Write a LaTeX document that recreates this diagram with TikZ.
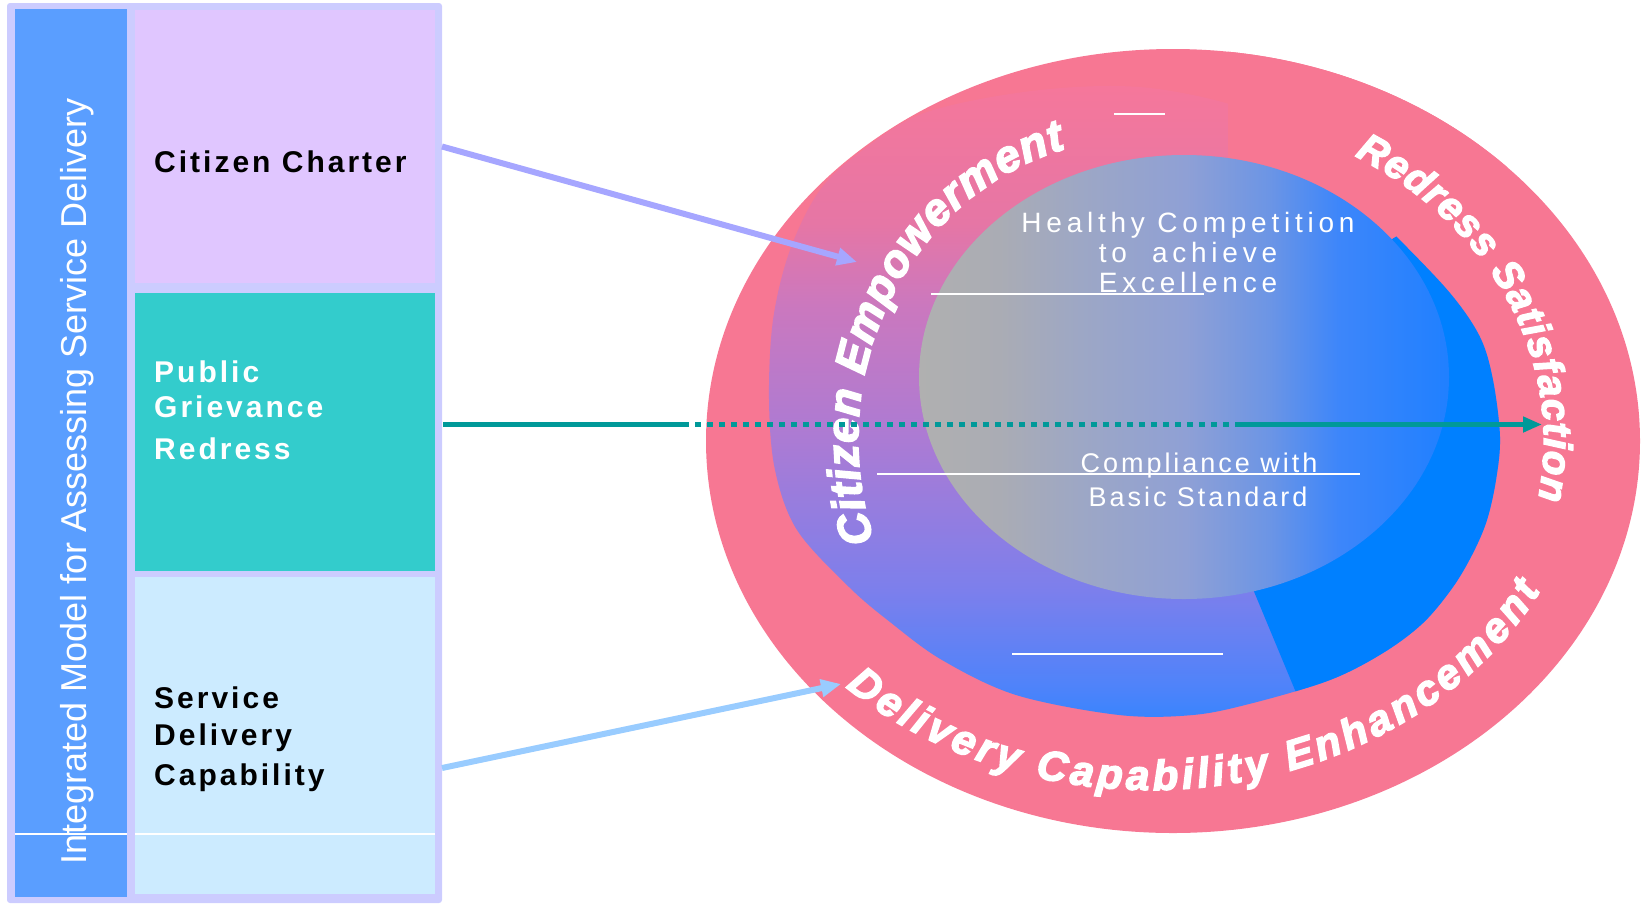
\documentclass[tikz,border=0pt]{standalone}
\usepackage{fontspec}
\setmainfont{Liberation Sans}
\newfontfamily\boxfont{Liberation Sans}[LetterSpace=10]
\newfontfamily\ctrfont{Liberation Sans}[LetterSpace=17]
\newfontfamily\cmpfont{Liberation Sans}[LetterSpace=11]
\newfontfamily\arcfont{Liberation Sans}[BoldItalicFeatures={FakeBold=3.5}]
\usetikzlibrary{arrows.meta,decorations.text}
\definecolor{framec}{HTML}{CCCCFF}
\definecolor{colblue}{HTML}{5A9EFF}
\definecolor{ccbox}{HTML}{E0C6FF}
\definecolor{pgrbox}{HTML}{33CCCC}
\definecolor{sdcbox}{HTML}{CCEBFF}
\definecolor{ringpink}{HTML}{F77793}
\definecolor{wedgeblue}{HTML}{0080FF}
\definecolor{tealc}{HTML}{009999}
\definecolor{lavc}{HTML}{A6A6FF}
\definecolor{lbluec}{HTML}{99CCFF}
\definecolor{m1}{HTML}{2A85FF}
\definecolor{m2}{HTML}{4F83FA}
\definecolor{m3}{HTML}{7C7FEC}
\definecolor{m4}{HTML}{AB7BD4}
\definecolor{m5}{HTML}{CB78BE}
\definecolor{m6}{HTML}{E676A5}
\definecolor{m7}{HTML}{F5779B}
\definecolor{i1}{HTML}{B0B0B0}
\definecolor{i2}{HTML}{AAACB4}
\definecolor{i3}{HTML}{9DA7C5}
\definecolor{i4}{HTML}{8FA0D5}
\definecolor{i5}{HTML}{6C95E5}
\definecolor{i6}{HTML}{3D86FA}
\definecolor{i7}{HTML}{2080FF}
\pgfdeclareverticalshading{midshade}{100bp}{color(0bp)=(m1); color(25bp)=(m1); color(29bp)=(m2); color(36bp)=(m3); color(47bp)=(m4); color(57bp)=(m5); color(63bp)=(m6); color(73bp)=(m7); color(100bp)=(m7)}
\pgfdeclarehorizontalshading{coreshade}{100bp}{color(0bp)=(i1); color(25bp)=(i1); color(32.6bp)=(i2); color(40.2bp)=(i3); color(50.2bp)=(i4); color(58bp)=(i5); color(64.6bp)=(i6); color(75bp)=(i7); color(100bp)=(i7)}
\begin{document}
\begin{tikzpicture}[x=1pt,y=-1pt,
  panel/.style={inner sep=0pt, outer sep=0pt, anchor=north west},
  boxlabel/.style={anchor=base west, inner sep=0pt, font=\boxfont\bfseries\fontsize{30}{34}\selectfont},
  ctrlabel/.style={anchor=base, inner sep=0pt, text=white, font=\ctrfont\fontsize{28}{32}\selectfont},
  cmplabel/.style={anchor=base, inner sep=0pt, text=white, font=\cmpfont\fontsize{27}{31}\selectfont},
  hairline/.style={white, line width=1.2pt},
  arrowline/.style={line width=6pt},
  tealline/.style={draw=tealc, line width=4.5pt},
]
\useasboundingbox (0,0) rectangle (1641,906);

% left panel
\node[panel, fill=framec, rounded corners=3pt, minimum width=435pt, minimum height=900pt] (frame) at (7,3) {};
\node[panel, fill=colblue, minimum width=112pt, minimum height=888pt] (col) at (15,9) {};
\node[panel, fill=ccbox, minimum width=300pt, minimum height=273pt] (cc) at (135,10) {};
\node[panel, fill=pgrbox, minimum width=300pt, minimum height=278pt] (pgr) at (135,293) {};
\node[panel, fill=sdcbox, minimum width=300pt, minimum height=317pt] (sdc) at (135,577) {};
\draw[hairline] (15,834) -- (127,834);
\draw[hairline] (135,834) -- (435,834);

\node[rotate=90, anchor=base west, inner sep=0pt, text=white, font=\fontsize{36}{40}\selectfont] (title) at (86,865) {Integrated Model for Assessing Service Delivery};

\node[boxlabel] (ccl) at (154,172) {Citizen Charter};
\node[boxlabel, text=white] (pgr1) at (154,382) {Public};
\node[boxlabel, text=white] (pgr2) at (154,417) {Grievance};
\node[boxlabel, text=white] (pgr3) at (154,459) {Redress};
\node[boxlabel] (sdc1) at (154,708) {Service};
\node[boxlabel] (sdc2) at (154,745) {Delivery};
\node[boxlabel] (sdc3) at (154,785) {Capability};

% outer ring
\fill[ringpink] (1173,441) ellipse [x radius=467, y radius=392];

% middle ring
\begin{scope}
\clip plot[smooth cycle, tension=0.55] coordinates {(1150,88) (1040,90) (927,112) (863,150) (820,190) (790,250) (773,320) (769,400) (775,470) (797,530) (849,587) (890,622) (942,660) (1016,695) (1119,715) (1193,715) (1253,703) (1330,680) (1383,653) (1423,623) (1453,587) (1473,553) (1487,520) (1496,480) (1500,437) (1493,380) (1480,337) (1450,293) (1395,235) (1330,170) (1260,115)};
\shade[shading=midshade] (760,60) rectangle (1510,740);
\fill[wedgeblue] (1166,380) -- (1374,880) -- (1900,880) -- (1900,-78) -- cycle;
\end{scope}
\begin{scope}
\clip (1173,441) ellipse [x radius=467, y radius=392];
\fill[ringpink] (1228,341) -- (1900,-78) -- (1900,-200) -- (1228,-200) -- cycle;
\end{scope}

% inner core
\shade[shading=coreshade] (1184,377) ellipse [x radius=265, y radius=222];

\draw[hairline] (1114,114) -- (1165,114);
\draw[hairline] (931,294) -- (1204,294);
\draw[hairline] (877,474) -- (1360,474);
\draw[hairline] (1012,654) -- (1223,654);

\node[ctrlabel] (hc1) at (1188,232) {Healthy Competition};
\node[ctrlabel] (hc2) at (1188,262) {to\ \ achieve};
\node[ctrlabel] (hc3) at (1188,292) {Excellence};
\node[cmplabel] (cb1) at (1199,472) {Compliance with};
\node[cmplabel] (cb2) at (1198,506) {Basic Standard};

% curved labels (polylines sampled from ellipses)
\path[decorate, decoration={text along path, text align=fit to path,
  text={|\arcfont\bfseries\itshape\fontsize{45}{50}\selectfont\color{white}|Citizen Empowerment}}]
  plot[domain=0:1, samples=40] ({1140+282*cos(160.5+94.3*\x)}, {440+302*sin(160.5+94.3*\x)});
\path[decorate, decoration={text along path, text align=fit to path,
  text={|\arcfont\bfseries\itshape\fontsize{40}{44}\selectfont\color{white}|Redress Satisfaction}}]
  plot[domain=0:1, samples=36] ({1172+372*cos(-60.6+71*\x)}, {441+327*sin(-60.6+71*\x)});
\path[decorate, decoration={text along path, text align=fit to path,
  text={|\arcfont\bfseries\itshape\fontsize{42}{46}\selectfont\color{white}|Delivery Capability Enhancement}}]
  plot[domain=0:1, samples=50] ({1150+440*cos(133.8-106.4*\x)}, {420+370*sin(133.8-106.4*\x)});

% connectors
\coordinate (cetip) at (857,262);
\coordinate (dctip) at (841,684);
\coordinate (t1) at (683,424.5);
\coordinate (t2) at (1240,424.5);
\coordinate (rstip) at (1542,424.5);
\draw[arrowline, lavc, -{Triangle[length=20pt,width=17pt]}] ([xshift=7pt]cc.east) -- (cetip);
\draw[arrowline, lbluec, -{Triangle[length=20pt,width=17pt]}] ([xshift=7pt,yshift=-32.5pt]sdc.east) -- (dctip);
\draw[tealline] ([xshift=8pt,yshift=7.5pt]pgr.east) -- (t1);
\draw[tealline, dash pattern=on 6pt off 6pt] (t1) -- (t2);
\draw[tealline, -{Triangle[length=19pt,width=15pt]}] (t2) -- (rstip);
\end{tikzpicture}
\end{document}
